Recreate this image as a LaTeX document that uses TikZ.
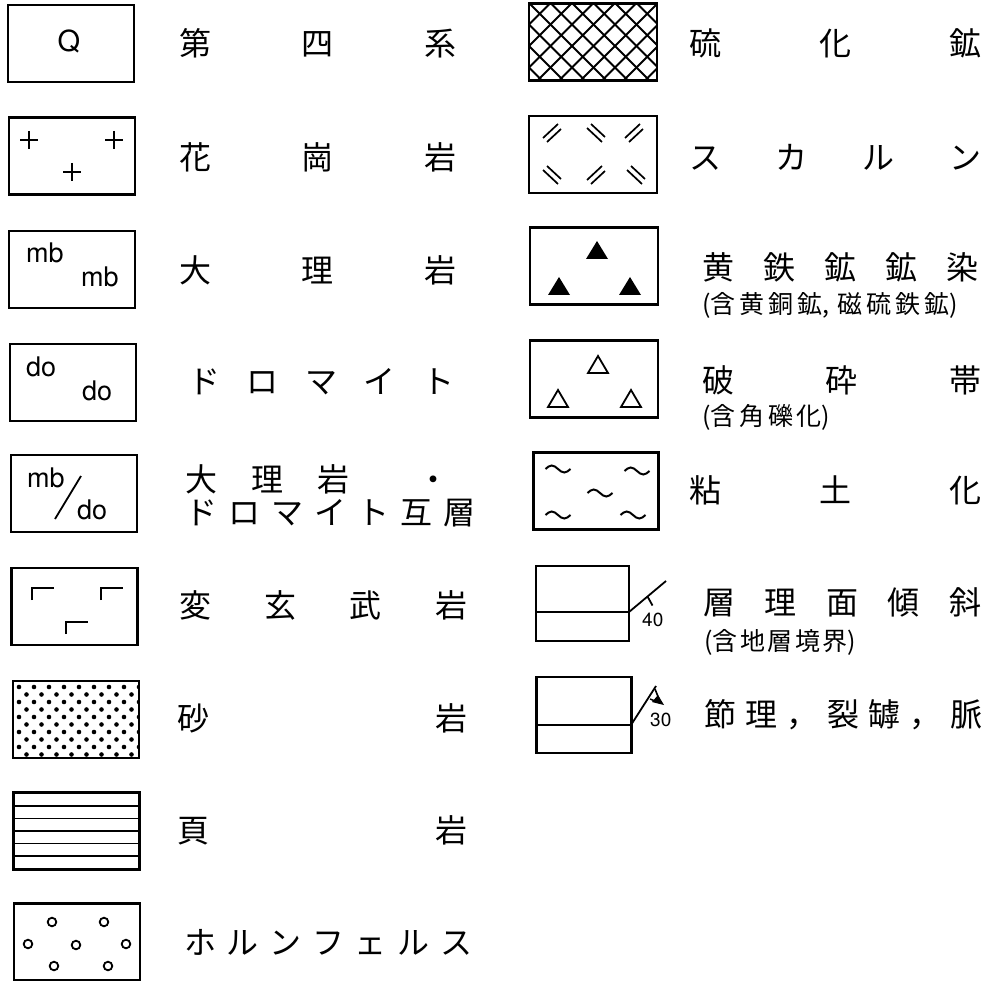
\documentclass[tikz,border=0pt]{standalone}
\usepackage{fontspec}
\usetikzlibrary{calc}
\setmainfont{TeX Gyre Heros}
\newfontfamily\jp{Noto Sans CJK JP}
\newcommand\spr[2]{\makebox[#1pt][s]{#2}}
\begin{document}
\begin{tikzpicture}[x=1pt,y=-1pt,
  box/.style={draw, line width=2.6pt, inner sep=0pt, minimum width=126pt, minimum height=77pt},
  lab/.style={anchor=west, inner sep=0pt, font=\jp\fontsize{32}{36}\selectfont},
  sub/.style={anchor=west, inner sep=0pt, font=\jp\fontsize{25}{28}\selectfont},
  inbox/.style={inner sep=0pt, font=\fontsize{27}{30}\selectfont},
  num/.style={inner sep=0pt, font=\fontsize{19}{21}\selectfont},
  fw/.pic={\draw[line width=1.7pt] (-9,5) -- (6,-9); \draw[line width=1.7pt] (-5,9) -- (9,-4);},
  bw/.pic={\draw[line width=1.7pt] (-9,-5) -- (6,9); \draw[line width=1.7pt] (-5,-9) -- (9,4);},
  tld/.pic={\draw[line width=2pt] (-12.5,0) sin ++(6.25,-3.5) cos ++(6.25,3.5) sin ++(6.25,3.5) cos ++(6.25,-3.5);},
  plussign/.pic={\draw[line width=2.2pt] (-9,0) -- (9,0) (0,-9) -- (0,9);},
  ang/.pic={\draw[line width=2.4pt] (0,12) -- (0,0) -- (22,0);}
]
\useasboundingbox[fill=white] (0,0) rectangle (987,981);

% ---------------- left column ----------------
\node[box] (q) at (71,43.5) {};
\node[inbox, font=\fontsize{29}{32}\selectfont] (qt) at (69,41) {Q};
\node[lab] (l1) at (179,43) {\spr{277}{第\hfill 四\hfill 系}};

\node[box] (gr) at (72,156) {};
\pic at (29,140) {plussign};
\pic at (114,140) {plussign};
\pic at (72,172) {plussign};
\node[lab] (l2) at (179,157) {\spr{277}{花\hfill 崗\hfill 岩}};

\node[box] (mb) at (72,269.5) {};
\node[inbox, anchor=base west] (mb1) at (26,263) {mb};
\node[inbox, anchor=base west] (mb2) at (81,287) {mb};
\node[lab] (l3) at (179,270) {\spr{277}{大\hfill 理\hfill 岩}};

\node[box] (do) at (73,382.5) {};
\node[inbox, anchor=base west] (do1) at (26,376) {do};
\node[inbox, anchor=base west] (do2) at (82,400) {do};
\node[lab] (l4) at (188,382) {\spr{266}{ド\hfill ロ\hfill マ\hfill イ\hfill ト}};

\node[box] (md) at (74,493.5) {};
\node[inbox, anchor=base west] (md1) at (27,487) {mb};
\draw[line width=1.8pt] (55,519) -- (81,476);
\node[inbox, anchor=base west] (md2) at (77,519) {do};
\node[lab] (l5a) at (185,479) {\spr{264}{大\hfill 理\hfill 岩\hfill\hfill ・}};
\node[lab] (l5b) at (185,513) {\spr{290}{ド\hfill ロ\hfill マ\hfill イ\hfill ト\hfill 互\hfill 層}};

\node[box] (ba) at (74.5,606.5) {};
\pic at (32,588) {ang};
\pic at (101,588) {ang};
\pic at (66,622) {ang};
\node[lab] (l6) at (179,605) {\spr{288}{変\hfill 玄\hfill 武\hfill 岩}};

\node[box] (sa) at (76,719.5) {};
\begin{scope}
  \clip (14,682) rectangle (138,757);
  \foreach \r [evaluate=\r as \yy using {687+7.5*\r}, evaluate=\r as \off using {mod(\r,2)*7.5}] in {0,...,9}
    \foreach \c in {0,...,8}
      \fill (19+\off+15*\c,\yy) circle (2.3pt);
\end{scope}
\node[lab] (l7) at (177,718) {\spr{290}{砂\hfill 岩}};

\node[box] (sh) at (76.5,831) {};
\foreach \yy in {806,818.5,831,843.5,856}
  \draw[line width=1.6pt] (14,\yy) -- (139,\yy);
\node[lab] (l8) at (177,830) {\spr{290}{頁\hfill 岩}};

\node[box] (ho) at (77,942) {};
\foreach \p in {(52,922),(104,922),(28,944),(76,945),(126,944),(54,966),(108,966)}
  \draw[line width=1.8pt] \p circle (4.3pt);
\node[lab] (l9) at (184,942) {\spr{288}{ホ\hfill ル\hfill ン\hfill フ\hfill ェ\hfill ル\hfill ス}};

% ---------------- right column ----------------
\node[box, minimum width=128pt] (su) at (593,42) {};
\begin{scope}
  \clip (529,3) rectangle (657,81);
  \foreach \k in {-5,...,10} {
    \draw[line width=1.8pt] (529+21.5*\k,3) -- ++(80,80);
    \draw[line width=1.8pt] (529+21.5*\k,3) -- ++(-80,80);
  }
\end{scope}
\node[lab] (r1) at (689,43) {\spr{292}{硫\hfill 化\hfill 鉱}};

\node[box, minimum width=128pt] (sk) at (593,154.5) {};
\pic at (552,133) {fw};
\pic at (596,133) {bw};
\pic at (634,133) {fw};
\pic at (552,175) {bw};
\pic at (596,175) {fw};
\pic at (636,175) {bw};
\node[lab] (r2) at (689,157) {\spr{292}{ス\hfill カ\hfill ル\hfill ン}};

\node[box, minimum width=128pt] (py) at (594,266) {};
\fill (597,241) -- (608,259) -- (586,259) -- cycle;
\fill (559,277) -- (570,295) -- (548,295) -- cycle;
\fill (630,277) -- (641,295) -- (619,295) -- cycle;
\node[lab] (r3) at (702,267) {\spr{276}{黄\hfill 鉄\hfill 鉱\hfill 鉱\hfill 染}};
\node[sub] (r3s) at (702,305) {\spr{256}{(含\hfill 黄\hfill 銅\hfill 鉱,\hfill\hfill 磁\hfill 硫\hfill 鉄\hfill 鉱)}};

\node[box, minimum width=128pt] (cr) at (594,379) {};
\draw[line width=1.8pt] (598,356) -- (608,373) -- (588,373) -- cycle;
\draw[line width=1.8pt] (558,390) -- (568,407) -- (548,407) -- cycle;
\draw[line width=1.8pt] (631,390) -- (641,407) -- (621,407) -- cycle;
\node[lab] (r4) at (702,380) {\spr{279}{破\hfill 砕\hfill 帯}};
\node[sub] (r4s) at (702,417) {\spr{128}{(含\hfill 角\hfill 礫\hfill 化)}};

\node[box, minimum width=125pt] (cl) at (596,491) {};
\pic at (558,469) {tld};
\pic at (637,471) {tld};
\pic at (600,493) {tld};
\pic at (558,515) {tld};
\pic at (633,515) {tld};
\node[lab] (r5) at (689,490) {\spr{292}{粘\hfill 土\hfill 化}};

\node[box, minimum width=93pt, minimum height=75pt] (be) at (582.5,603.5) {};
\coordinate (beL) at (536,612);
\coordinate (beR) at (629,612);
\coordinate (beT) at (666,581);
\draw[line width=1.8pt] (beL) -- (beR);
\draw[line width=1.8pt] (beR) -- (beT);
\draw[line width=1.8pt] ($(beR)!0.5!(beT)$) -- ++(5,9);
\node[num, anchor=west] (n40) at (642,620) {40};
\node[lab] (r6) at (703,602) {\spr{278}{層\hfill 理\hfill 面\hfill 傾\hfill 斜}};
\node[sub] (r6s) at (704,642) {\spr{152}{(含\hfill 地\hfill 層\hfill 境\hfill 界)}};

\node[box, minimum width=95pt, minimum height=76pt] (jo) at (584,715) {};
\coordinate (joL) at (536,725);
\coordinate (joR) at (631,725);
\coordinate (joT) at (656,686);
\draw[line width=1.8pt] (joL) -- (joR);
\draw[line width=1.8pt] (joR) -- (joT);
\draw[line width=1.6pt] (655,689) -- (659,699);
\draw[line width=1.4pt] (650,699) -- (660,703);
\fill (664,705) -- (652,702) -- (658,695) -- cycle;
\node[num, anchor=west] (n30) at (650,720) {30};
\node[lab] (r7) at (704,715) {\spr{278}{節\hfill 理\hfill ，\hfill 裂\hfill 罅\hfill ，\hfill 脈}};
\end{tikzpicture}
\end{document}
